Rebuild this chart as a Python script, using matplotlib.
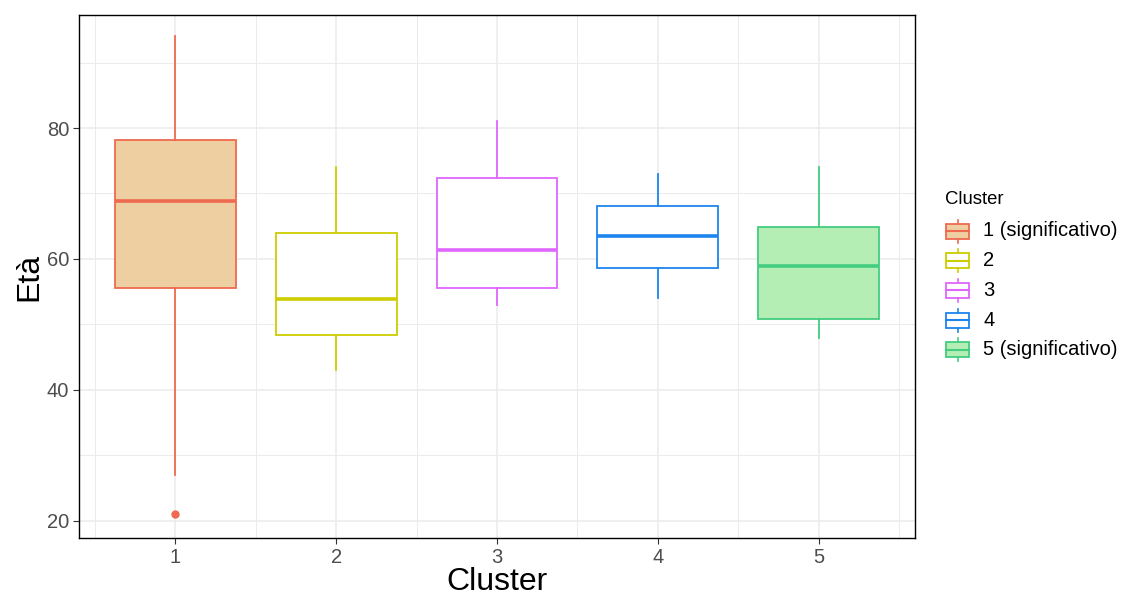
import matplotlib
matplotlib.use("Agg")
import matplotlib.pyplot as plt
from matplotlib.patches import Rectangle

plt.rcParams['font.family'] = ['Liberation Sans', 'DejaVu Sans']

# values
clusters = ['1', '2', '3', '4', '5']
q1 = [55.6, 48.4, 55.6, 58.6, 50.9]
med = [68.9, 53.9, 61.4, 63.5, 58.9]
q3 = [78.2, 63.9, 72.4, 68.1, 64.9]
whis_lo = [27.0, 43.0, 53.0, 54.0, 48.0]
whis_hi = [94.0, 74.0, 81.0, 73.0, 74.0]
outliers = [[21.0], [], [], [], []]
legend_labels = ['1 (significativo)', '2', '3', '4', '5 (significativo)']

edge_colors = ['#EE6A50', '#CDCD00', '#E066FF', '#1C86EE', '#43CD80']
fill_colors = ['#EECFA1', 'white', 'white', 'white', '#B4EEB4']

fig = plt.figure(figsize=(11.27, 5.96), dpi=100)
ax = fig.add_axes([0.0701, 0.0973, 0.7418, 0.8775])

stats = []
for i in range(len(clusters)):
    stats.append(dict(med=med[i], q1=q1[i], q3=q3[i], whislo=whis_lo[i],
                      whishi=whis_hi[i], fliers=outliers[i], label=clusters[i]))

positions = list(range(1, len(clusters) + 1))
bp = ax.bxp(stats, positions=positions, widths=0.75, patch_artist=True,
            showcaps=False, zorder=3)
for i, c in enumerate(edge_colors):
    bp['boxes'][i].set(facecolor=fill_colors[i], edgecolor=c, linewidth=1.3)
    bp['medians'][i].set(color=c, linewidth=2.6, solid_capstyle='butt')
    for w in bp['whiskers'][2 * i:2 * i + 2]:
        w.set(color=c, linewidth=1.3)
    bp['fliers'][i].set(marker='o', markerfacecolor=c, markeredgecolor=c,
                        markersize=5)

ax.set_xlim(0.4, 5.6)
ax.set_ylim(17.4, 97.25)
ax.set_yticks([20, 40, 60, 80])
ax.set_yticks([30, 50, 70, 90], minor=True)
ax.set_xticks(positions)
ax.set_xticklabels(clusters)
ax.set_xticks([p - 0.5 for p in positions] + [5.5], minor=True)
ax.grid(which='major', color='#EBEBEB', linewidth=1.1, zorder=0)
ax.grid(which='minor', color='#EBEBEB', linewidth=0.7, zorder=0)
ax.set_axisbelow(True)
ax.tick_params(which='major', length=4, width=0.8, color='#333333',
               labelsize=14.5, labelcolor='#4D4D4D', pad=3)
ax.tick_params(which='minor', length=0)
for s in ax.spines.values():
    s.set_color('black')
    s.set_linewidth(1.0)

ax.set_xlabel('Cluster', fontsize=23, labelpad=0)
ax.set_ylabel('Età', fontsize=23, labelpad=2)

# legend drawn by hand in ggplot style
lax = fig.add_axes([0, 0, 1, 1], facecolor='none')
lax.set_xlim(0, 1127)
lax.set_ylim(596, 0)
lax.axis('off')
lax.text(945, 199, 'Cluster', fontsize=13.3, va='center', ha='left')
for i, lab in enumerate(legend_labels):
    yc = 231 + i * 29.7
    x0, w, h = 946, 23, 15
    lax.add_patch(Rectangle((x0, yc - h / 2), w, h, facecolor=fill_colors[i],
                            edgecolor=edge_colors[i], linewidth=1.3))
    lax.plot([x0, x0 + w], [yc, yc], color=edge_colors[i], linewidth=1.5)
    lax.plot([x0 + w / 2, x0 + w / 2], [yc - h / 2 - 4, yc - h / 2],
             color=edge_colors[i], linewidth=1.2)
    lax.plot([x0 + w / 2, x0 + w / 2], [yc + h / 2, yc + h / 2 + 4],
             color=edge_colors[i], linewidth=1.2)
    lax.text(983, yc, lab, fontsize=14.5, va='center', ha='left')

fig.savefig('out.png', dpi=100)
